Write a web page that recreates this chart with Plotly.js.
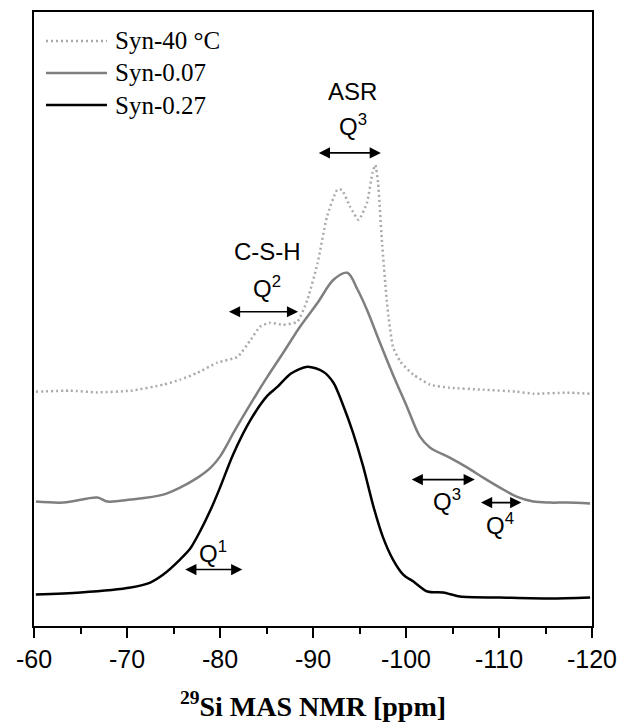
<!DOCTYPE html>
<html>
<head>
<meta charset="utf-8">
<script src="https://cdn.plot.ly/plotly-3.0.1.min.js"></script>
<style>html,body{margin:0;padding:0;background:#fff;}#chart{width:629px;height:725px;}</style>
</head>
<body>
<div id="chart"></div>
<script>
// Chemical shift (ppm) and intensity (arbitrary units, stacked offsets as in the figure)
const ppm40 = [-60.2,-63.9,-66.8,-70.4,-73.9,-75.7,-77.6,-79.7,-81.9,-83.3,-84.3,-85.4,-86.8,-88.3,-89.4,-90.5,-91.5,-92.6,-93.1,-94.0,-94.9,-95.8,-96.4,-96.7,-97.0,-97.4,-98.0,-98.6,-99.4,-100.8,-102.6,-104.7,-108.3,-111.9,-113.7,-117.3,-119.8];
const int40 = [234.5,235.5,233.8,235.5,241.5,246.5,253.5,263.5,269.5,286.5,299.5,303.5,301.5,304.5,326.5,363.5,409.5,436.5,436.5,419.5,406.5,423.5,453.5,461.5,443.5,386.5,319.5,279.5,264.5,251.5,241.5,238.5,236.5,234.5,232.5,233.5,232.5];

const ppm007 = [-60.2,-63.2,-66.8,-67.9,-70.4,-73.9,-75.7,-77.6,-79.0,-80.0,-80.7,-81.4,-83.3,-85.1,-86.8,-88.6,-90.5,-92.2,-93.7,-94.8,-95.8,-97.2,-98.6,-100.1,-101.5,-102.6,-104.7,-106.6,-108.3,-110.1,-111.9,-113.7,-115.5,-117.3,-119.8];
const int007 = [124.5,123.5,128.5,124.5,126.5,131.5,138.5,148.5,158.5,169.5,180.5,192.5,222.5,249.5,273.5,299.5,323.5,346.5,353.5,336.5,316.5,283.5,251.5,219.5,189.5,178.5,168.5,158.5,148.5,138.5,129.5,124.5,123.5,123.5,122.5];

const ppm027 = [-60.2,-65.0,-70.4,-72.5,-73.9,-75.7,-76.8,-77.9,-79.0,-80.0,-81.4,-83.3,-85.1,-86.2,-87.6,-89.4,-91.1,-92.2,-93.3,-94.3,-95.4,-96.5,-97.5,-98.6,-99.7,-100.8,-102.3,-104.0,-105.8,-110.1,-115.5,-119.8];
const int027 = [31.5,33.5,38.5,43.5,51.5,66.5,77.5,95.5,116.5,138.5,171.5,206.5,230.5,239.5,252.5,259.5,254.5,243.5,219.5,193.5,159.5,119.5,89.5,66.5,51.5,44.5,34.5,33.5,29.5,28.5,27.5,28.5];

const seriesNames = ['Syn-40 \u00B0C', 'Syn-0.07', 'Syn-0.27'];
const seriesColors = ['#a9a9a9', '#7f7f7f', '#000000'];
const seriesDash = ['2px,3px', 'solid', 'solid'];
const tickVals = [-60,-70,-80,-90,-100,-110,-120];
const tickText = ['-60','-70','-80','-90','-100','-110','-120'];

const xs = [ppm40, ppm007, ppm027];
const ys = [int40, int007, int027];
const smooth = [0.5, 0.9, 0.8];
const traces = xs.map((x, i) => ({
  x: x, y: ys[i], name: seriesNames[i], mode: 'lines', showlegend: false,
  line: {color: seriesColors[i], width: 2.5, dash: seriesDash[i], shape: 'spline', smoothing: smooth[i]}
}));

const labFont = {family: 'Liberation Sans, Arial, sans-serif', size: 24, color: '#000'};
function arrow(x0, x1, y) {
  return {x: x1, y: y, ax: x0, ay: y, xref: 'x', yref: 'y', axref: 'x', ayref: 'y', text: '', showarrow: true,
          arrowhead: 2, startarrowhead: 2, arrowside: 'end+start', arrowsize: 1.4, startarrowsize: 1.4, arrowwidth: 1.6, arrowcolor: '#000'};
}
function label(x, y, t) {
  return {x: x, y: y, xref: 'x', yref: 'y', text: t, showarrow: false, font: labFont, xanchor: 'center', yanchor: 'middle'};
}

// hand-drawn legend (paper coordinates)
const legRowsY = [0.9528, 0.9007, 0.8485];
const legShapes = legRowsY.map((yy, i) => ({
  type: 'line', xref: 'paper', yref: 'paper', x0: 0.0215, x1: 0.1308, y0: yy, y1: yy,
  line: {color: seriesColors[i], width: 2.5, dash: seriesDash[i]}
}));
const legLabels = legRowsY.map((yy, i) => ({
  xref: 'paper', yref: 'paper', x: 0.1416, y: yy, xanchor: 'left', yanchor: 'middle', showarrow: false,
  text: seriesNames[i], font: {family: 'Liberation Serif, Times New Roman, serif', size: 25, color: '#000'}
}));

const layout = {
  width: 629, height: 725,
  margin: {l: 34, r: 37, t: 12, b: 99},
  paper_bgcolor: '#fff', plot_bgcolor: '#fff',
  showlegend: false,
  xaxis: {
    range: [-60, -120], tickvals: tickVals, ticktext: tickText,
    ticks: 'outside', ticklen: 10, tickwidth: 2, tickcolor: '#000',
    minor: {dtick: 5, ticks: 'outside', ticklen: 6, tickwidth: 2, tickcolor: '#000', showgrid: false},
    showline: true, linewidth: 2, linecolor: '#000', mirror: true,
    showgrid: false, zeroline: false,
    tickfont: {family: 'Liberation Sans, Arial, sans-serif', size: 25, color: '#000'},
    title: {text: '<sup>29</sup>Si MAS NMR [ppm]', font: {family: 'Liberation Serif, Times New Roman, serif', size: 28, color: '#000', weight: 'bold'}, standoff: 24}
  },
  yaxis: {
    range: [0, 614.5], showticklabels: false, ticks: '', showgrid: false, zeroline: false,
    showline: true, linewidth: 2, linecolor: '#000', mirror: true
  },
  shapes: legShapes,
  annotations: legLabels.concat([
    label(-94.3, 534.5, 'ASR'),
    label(-94.3, 501, 'Q<sup>3</sup>'),
    arrow(-90.46, -97.3, 473.5),
    label(-85.1, 374.5, 'C-S-H'),
    label(-85.1, 339, 'Q<sup>2</sup>'),
    arrow(-80.8, -88.4, 314.5),
    label(-79.3, 74, 'Q<sup>1</sup>'),
    arrow(-76.1, -82.4, 56.5),
    arrow(-100.45, -107.4, 146.5),
    label(-104.4, 126, 'Q<sup>3</sup>'),
    arrow(-107.9, -112.4, 123.5),
    label(-110.1, 102, 'Q<sup>4</sup>')
  ])
};

Plotly.newPlot('chart', traces, layout, {displayModeBar: false, staticPlot: true});
</script>
</body>
</html>
